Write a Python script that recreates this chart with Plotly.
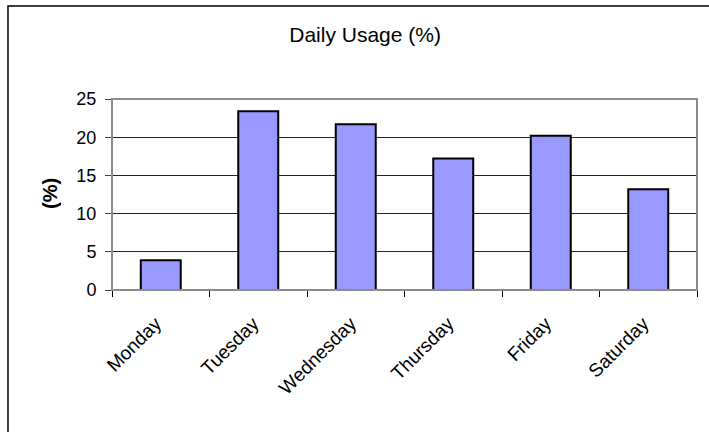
import plotly.graph_objects as go

# Share of weekly usage falling on each day
days = ["Monday", "Tuesday", "Wednesday", "Thursday", "Friday", "Saturday"]
usage_pct = [3.9, 23.4, 21.7, 17.2, 20.2, 13.2]
y_ticks = [0, 5, 10, 15, 20, 25]

FONT = "Liberation Sans, Arial, sans-serif"

fig = go.Figure(
    go.Bar(
        x=days,
        y=usage_pct,
        marker=dict(color="#9999FF", line=dict(color="#000000", width=2)),
    )
)

fig.update_layout(
    width=709,
    height=432,
    margin=dict(l=112, r=12, t=99, b=142),
    paper_bgcolor="white",
    plot_bgcolor="white",
    bargap=0.59,
    showlegend=False,
    font=dict(family=FONT, color="black", size=16),
    title=dict(
        text="Daily Usage (%)",
        x=0.515,
        xanchor="center",
        y=0.92,
        yanchor="middle",
        font=dict(family=FONT, size=21, color="black"),
    ),
)

fig.update_xaxes(
    type="category",
    tickangle=-45,
    ticks="outside",
    tickson="boundaries",
    ticklen=6,
    tickcolor="black",
    ticklabelstandoff=14,
    ticklabelshift=-5,
    showline=True,
    linecolor="black",
    linewidth=1,
    showgrid=False,
    tickfont=dict(family=FONT, size=19, color="black"),
)

fig.update_yaxes(
    range=[0, 25],
    tickvals=y_ticks,
    ticks="outside",
    ticklen=6,
    tickcolor="#444444",
    ticklabelstandoff=5,
    showline=True,
    linecolor="#444444",
    linewidth=1,
    showgrid=True,
    gridcolor="#222222",
    gridwidth=1,
    zeroline=False,
    tickfont=dict(family=FONT, size=18, color="black"),
)

# Plot-area frame (gray) and outer chart border
fig.add_shape(
    type="rect", xref="paper", yref="paper", x0=0, x1=1, y0=0, y1=1,
    line=dict(color="#8c8c8c", width=2), layer="above",
)
fig.add_shape(
    type="rect", xref="paper", yref="paper",
    x0=-0.1778, x1=1.05, y0=-0.8, y1=1.487,
    line=dict(color="black", width=1.5), layer="below",
)

# Rotated y-axis title
fig.add_annotation(
    text="<b>(%)</b>", xref="paper", yref="paper",
    x=-0.106, y=0.508, xanchor="center", yanchor="middle",
    textangle=-90, showarrow=False,
    font=dict(family=FONT, size=20, color="black"),
)

fig.write_html("out.html")
